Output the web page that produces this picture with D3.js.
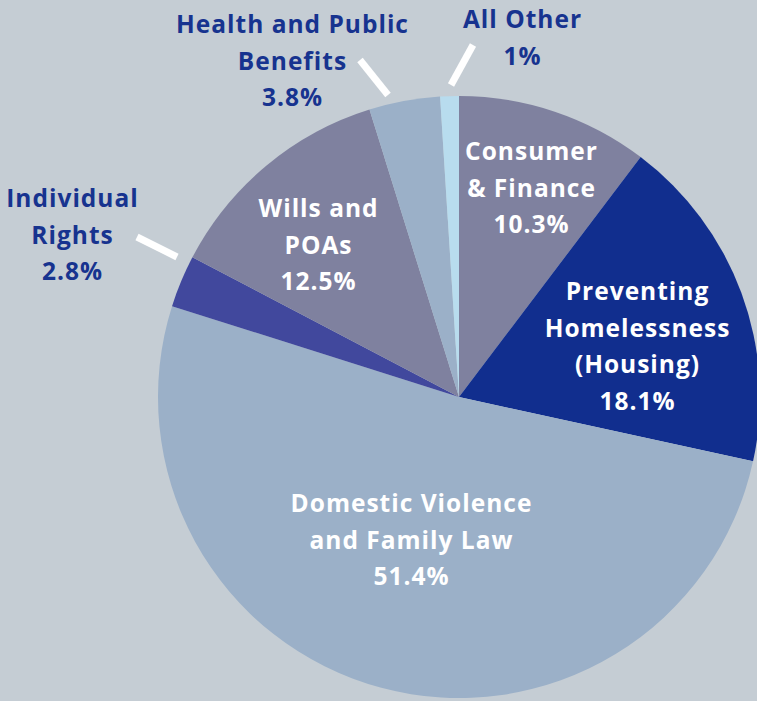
<!DOCTYPE html>
<html>
<head>
<meta charset="utf-8">
<script src="https://cdn.jsdelivr.net/npm/d3@7"></script>
<style>
  html, body { margin: 0; padding: 0; background: #c5cdd4; }
  svg { display: block; }
</style>
</head>
<body>
<svg id="chart" width="757" height="701"></svg>
<script>
// ---- data ----
const categories = [
  "Consumer & Finance",
  "Preventing Homelessness (Housing)",
  "Domestic Violence and Family Law",
  "Individual Rights",
  "Wills and POAs",
  "Health and Public Benefits",
  "All Other"
];
const values = [10.3, 18.1, 51.4, 2.8, 12.5, 3.8, 1];
const valueLabels = ["10.3%", "18.1%", "51.4%", "2.8%", "12.5%", "3.8%", "1%"];
const labelLines = [
  ["Consumer", "& Finance"],
  ["Preventing", "Homelessness", "(Housing)"],
  ["Domestic Violence", "and Family Law"],
  ["Individual", "Rights"],
  ["Wills and", "POAs"],
  ["Health and Public", "Benefits"],
  ["All Other"]
];

// ---- styles / layout ----
const colors = ["#7f819f", "#112e8e", "#9bb0c8", "#41489d", "#7f819f", "#9bb0c8", "#b8dcee"];
const inside = [true, true, true, false, true, false, false];
const W = 757, H = 701;
const cx = 459, cy = 397, R = 301;
// label first-baseline anchors relative to pie centre
const labelAnchor = [
  [72, -237], [178, -97], [-48, 115], [-387, -190], [-141, -180], [-167, -364], [63, -369]
];
// leader lines relative to pie centre
const leaders = {
  3: [[-282, -140], [-322, -160]],
  5: [[-71, -302], [-99, -337]],
  6: [[-8, -312], [14, -352]]
};
const lineH = 36.5;

const svg = d3.select("#chart");
svg.append("rect").attr("width", W).attr("height", H).attr("fill", "#c5cdd4");

const g = svg.append("g").attr("transform", `translate(${cx},${cy})`);

const pie = d3.pie().sort(null).value(d => d).startAngle(0).endAngle(2 * Math.PI);
const arcs = pie(values);
const arc = d3.arc().innerRadius(0).outerRadius(R);

g.selectAll("path.slice")
  .data(arcs)
  .join("path")
  .attr("class", "slice")
  .attr("d", arc)
  .attr("fill", (d, i) => colors[i]);

// leader lines
Object.entries(leaders).forEach(([i, pts]) => {
  g.append("line")
    .attr("x1", pts[0][0]).attr("y1", pts[0][1])
    .attr("x2", pts[1][0]).attr("y2", pts[1][1])
    .attr("stroke", "#ffffff")
    .attr("stroke-width", 7);
});

// labels
categories.forEach((c, i) => {
  const lines = labelLines[i].concat([valueLabels[i]]);
  const t = g.append("text")
    .attr("text-anchor", "middle")
    .attr("font-family", "'Open Sans', 'DejaVu Sans', sans-serif")
    .attr("font-weight", 700)
    .attr("font-size", 24.5)
    .attr("letter-spacing", 1)
    .attr("fill", inside[i] ? "#ffffff" : "#17338f");
  lines.forEach((ln, k) => {
    t.append("tspan")
      .attr("x", labelAnchor[i][0] + 0.5)
      .attr("y", labelAnchor[i][1] + k * lineH)
      .text(ln);
  });
});
</script>
</body>
</html>
